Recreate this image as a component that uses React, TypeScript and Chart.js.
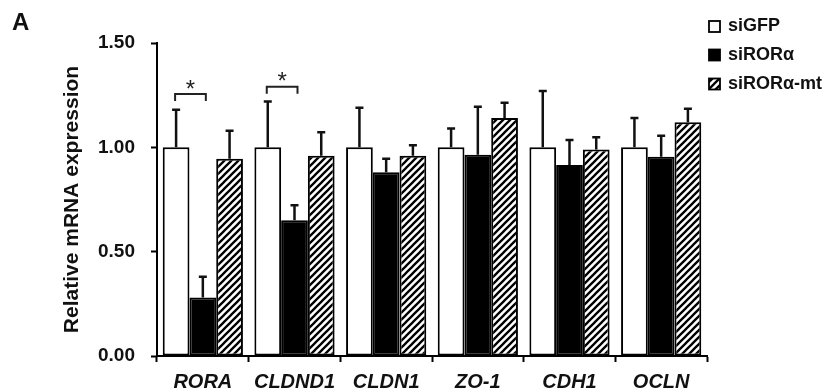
import React, { useEffect, useRef } from "react";
import { Chart, registerables } from "chart.js";

Chart.register(...registerables);

const categories = ["RORA", "CLDND1", "CLDN1", "ZO-1", "CDH1", "OCLN"];
const seriesNames = ["siGFP", "siRORα", "siRORα-mt"];
const siGFP = [1.0, 1.0, 1.0, 1.0, 1.0, 1.0];
const siGFPErr = [0.18, 0.22, 0.19, 0.09, 0.27, 0.14];
const siRORa = [0.28, 0.65, 0.88, 0.965, 0.915, 0.955];
const siRORaErr = [0.1, 0.073, 0.065, 0.23, 0.12, 0.1];
const siRORaMt = [0.945, 0.96, 0.96, 1.14, 0.99, 1.12];
const siRORaMtErr = [0.135, 0.112, 0.05, 0.074, 0.058, 0.065];
const yTicks = [0, 0.5, 1.0, 1.5];
const sigCategories = [0, 1];
const sigBracketY = [1.255, 1.29];
const sigLabel = "*";

const FONT = "'Liberation Sans', Arial, Helvetica, sans-serif";
const INK = "#111";

function makeHatch(): CanvasPattern | string {
  const s = 7;
  const c = document.createElement("canvas");
  c.width = s;
  c.height = s;
  const g = c.getContext("2d");
  if (!g) return "#fff";
  g.fillStyle = "#fff";
  g.fillRect(0, 0, s, s);
  g.strokeStyle = "#000";
  g.lineWidth = 2.3;
  g.lineCap = "square";
  g.beginPath();
  g.moveTo(0, s);
  g.lineTo(s, 0);
  g.moveTo(-s / 2, s / 2);
  g.lineTo(s / 2, -s / 2);
  g.moveTo(s / 2, s + s / 2);
  g.lineTo(s + s / 2, s / 2);
  g.stroke();
  const p = g.createPattern(c, "repeat");
  return p || "#fff";
}

export default function App() {
  const ref = useRef<HTMLCanvasElement | null>(null);

  useEffect(() => {
    document.body.style.margin = "0";
    const canvas = ref.current;
    if (!canvas) return;
    const hatch = makeHatch();
    const errs = [siGFPErr, siRORaErr, siRORaMtErr];
    const fills: any[] = ["#ffffff", "#000000", hatch];

    const errorBars = {
      id: "errorBars",
      afterDatasetsDraw(chart: any) {
        const ctx = chart.ctx;
        const y = chart.scales.y;
        ctx.save();
        ctx.strokeStyle = INK;
        ctx.lineWidth = 2.5;
        chart.data.datasets.forEach((ds: any, di: number) => {
          const meta = chart.getDatasetMeta(di);
          meta.data.forEach((el: any, i: number) => {
            const top = y.getPixelForValue(ds.data[i] + errs[di][i]);
            ctx.beginPath();
            ctx.moveTo(el.x, el.y);
            ctx.lineTo(el.x, top);
            ctx.moveTo(el.x - 4, top);
            ctx.lineTo(el.x + 4, top);
            ctx.stroke();
          });
        });
        ctx.restore();
      },
    };

    const sigPlugin = {
      id: "sig",
      afterDatasetsDraw(chart: any) {
        const ctx = chart.ctx;
        const y = chart.scales.y;
        const m0 = chart.getDatasetMeta(0);
        const m1 = chart.getDatasetMeta(1);
        ctx.save();
        ctx.strokeStyle = "#222";
        ctx.lineWidth = 2;
        ctx.fillStyle = "#222";
        sigCategories.forEach((ci, k) => {
          const x0 = m0.data[ci].x - 1;
          const x1 = m1.data[ci].x + 3;
          const yt = y.getPixelForValue(sigBracketY[k]);
          ctx.beginPath();
          ctx.moveTo(x0, yt + 7);
          ctx.lineTo(x0, yt);
          ctx.lineTo(x1, yt);
          ctx.lineTo(x1, yt + 7);
          ctx.stroke();
          ctx.font = `24px ${FONT}`;
          ctx.textAlign = "center";
          ctx.textBaseline = "middle";
          ctx.fillText(sigLabel, (x0 + x1) / 2, yt - 4);
        });
        ctx.restore();
      },
    };

    const legendPlugin = {
      id: "customLegend",
      afterDraw(chart: any) {
        const ctx = chart.ctx;
        const bx = chart.width - 119;
        const rows = [26.5, 55, 84];
        ctx.save();
        ctx.font = `bold 18px ${FONT}`;
        ctx.textBaseline = "middle";
        ctx.textAlign = "left";
        seriesNames.forEach((name, i) => {
          const cy = rows[i];
          ctx.fillStyle = fills[i];
          ctx.fillRect(bx, cy - 5.5, 11, 11);
          ctx.strokeStyle = "#000";
          ctx.lineWidth = 1.8;
          ctx.strokeRect(bx, cy - 5.5, 11, 11);
          ctx.fillStyle = INK;
          ctx.fillText(name, bx + 19, cy);
        });
        ctx.font = `bold 24px ${FONT}`;
        ctx.textBaseline = "alphabetic";
        ctx.fillText("A", 12, 30);
        ctx.restore();
      },
    };

    const chart = new Chart(canvas, {
      type: "bar",
      data: {
        labels: categories,
        datasets: [siGFP, siRORa, siRORaMt].map((d, i) => ({
          label: seriesNames[i],
          data: d,
          backgroundColor: fills[i],
          borderColor: "#000",
          borderWidth: 2,
          borderSkipped: false,
          categoryPercentage: 0.875,
          barPercentage: 1.0,
        })),
      },
      options: {
        animation: false,
        responsive: false,
        layout: { padding: { left: 0, right: 121, top: 43, bottom: 0 } },
        plugins: {
          legend: { display: false },
          tooltip: { enabled: false },
        },
        scales: {
          x: {
            afterFit(scale: any) {
              scale.height = 36;
            },
            grid: {
              display: true,
              offset: true,
              drawOnChartArea: false,
              drawTicks: true,
              tickLength: 6,
              tickWidth: 2,
              tickColor: "#000",
            },
            border: { display: true, color: "#000", width: 2 },
            ticks: {
              padding: 8,
              color: INK,
              font: { family: FONT, size: 20, weight: "bold", style: "italic" },
            },
          },
          y: {
            min: 0,
            max: 1.5,
            afterFit(scale: any) {
              scale.width = 157;
            },
            afterBuildTicks(scale: any) {
              scale.ticks = yTicks.map((v) => ({ value: v }));
            },
            grid: {
              display: true,
              drawOnChartArea: false,
              drawTicks: true,
              tickLength: 6,
              tickWidth: 2,
              tickColor: "#000",
            },
            border: { display: true, color: "#000", width: 2 },
            ticks: {
              padding: 16,
              color: INK,
              font: { family: FONT, size: 19, weight: "bold" },
              callback: (v: any) => Number(v).toFixed(2),
            },
            title: {
              display: true,
              text: "Relative mRNA expression",
              color: INK,
              font: { family: FONT, size: 21, weight: "bold" },
              padding: { top: 60, bottom: 0 },
            },
          },
        },
      },
      plugins: [errorBars, sigPlugin, legendPlugin],
    });
    return () => chart.destroy();
  }, []);

  return (
    <div style={{ width: 828, height: 392 }}>
      <canvas ref={ref} width={828} height={392} style={{ width: 828, height: 392, display: "block" }} />
    </div>
  );
}
